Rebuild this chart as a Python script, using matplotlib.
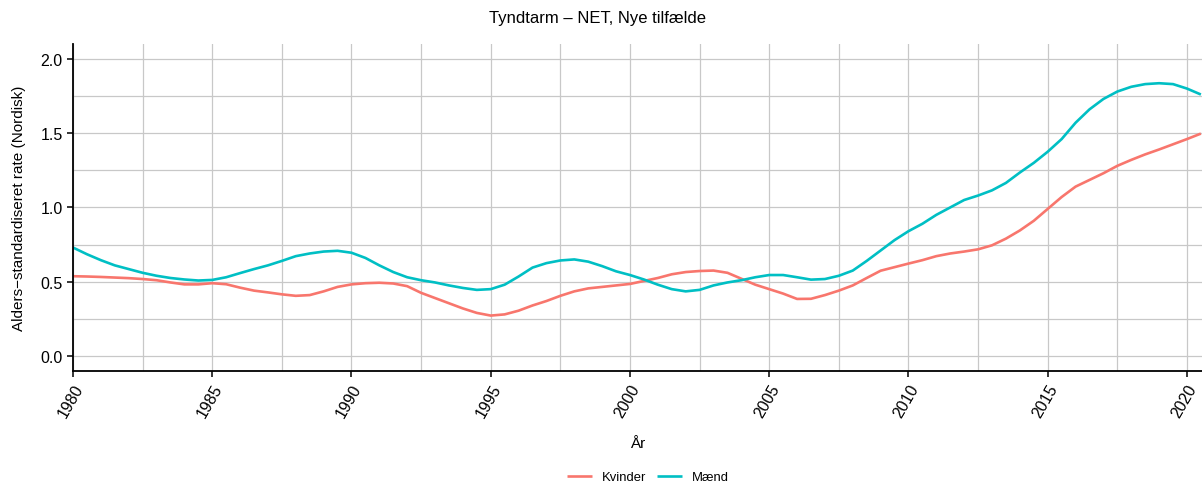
import numpy as np
from matplotlib import pyplot as plt
from matplotlib.ticker import MultipleLocator

# half-year grid, values
years = np.arange(1980.0, 2020.51, 0.5)

kvinder = [0.537, 0.535, 0.532, 0.528, 0.524, 0.518, 0.510, 0.495, 0.482, 0.482,
           0.490, 0.483, 0.460, 0.440, 0.428, 0.415, 0.405, 0.410, 0.435, 0.465,
           0.482, 0.490, 0.493, 0.488, 0.470, 0.425, 0.390, 0.355, 0.320, 0.290,
           0.272, 0.280, 0.305, 0.340, 0.370, 0.405, 0.435, 0.455, 0.465, 0.475,
           0.485, 0.505, 0.525, 0.550, 0.565, 0.572, 0.575, 0.560, 0.520, 0.480,
           0.450, 0.420, 0.384, 0.385, 0.410, 0.440, 0.475, 0.525, 0.574, 0.598,
           0.622, 0.645, 0.672, 0.690, 0.703, 0.718, 0.745, 0.790, 0.845, 0.910,
           0.990, 1.070, 1.140, 1.185, 1.230, 1.280, 1.320, 1.357, 1.390, 1.425,
           1.460, 1.497]

maend = [0.730, 0.685, 0.645, 0.610, 0.585, 0.560, 0.540, 0.525, 0.515, 0.508,
         0.512, 0.530, 0.558, 0.585, 0.610, 0.640, 0.672, 0.690, 0.703, 0.708,
         0.695, 0.660, 0.610, 0.565, 0.530, 0.510, 0.495, 0.475, 0.458, 0.445,
         0.450, 0.480, 0.535, 0.595, 0.625, 0.643, 0.650, 0.635, 0.605, 0.570,
         0.545, 0.515, 0.480, 0.450, 0.435, 0.445, 0.475, 0.495, 0.510, 0.530,
         0.545, 0.545, 0.530, 0.514, 0.518, 0.540, 0.575, 0.640, 0.710, 0.780,
         0.840, 0.890, 0.950, 1.000, 1.050, 1.080, 1.115, 1.165, 1.235, 1.300,
         1.375, 1.460, 1.570, 1.660, 1.730, 1.780, 1.812, 1.830, 1.836, 1.830,
         1.800, 1.760]

series_names = ['Kvinder', 'Mænd']
series_colors = ['#F8766D', '#00BFC4']

plt.rcParams['font.family'] = ['Liberation Sans', 'DejaVu Sans']

fig = plt.figure(figsize=(12.02, 4.85), dpi=100)
ax = fig.add_axes([73 / 1202, 1 - 372 / 485, 1 - 73 / 1202, (372 - 45) / 485])

for vals, name, col in zip([kvinder, maend], series_names, series_colors):
    ax.plot(years, vals, color=col, lw=1.9, label=name, solid_capstyle='butt')

ax.set_xlim(1980, 2020.54)
ax.set_ylim(-0.101, 2.10)
ax.xaxis.set_major_locator(MultipleLocator(5))
ax.xaxis.set_minor_locator(MultipleLocator(2.5))
ax.yaxis.set_minor_locator(MultipleLocator(0.25))
ax.set_yticks([0.0, 0.5, 1.0, 1.5, 2.0])
ax.set_yticklabels(['0.0', '0.5', '1.0', '1.5', '2.0'])

ax.grid(True, which='both', color='#c8c8c8', lw=0.9)
ax.set_axisbelow(True)
for s in ['top', 'right']:
    ax.spines[s].set_visible(False)
for s in ['left', 'bottom']:
    ax.spines[s].set_linewidth(1.3)
ax.tick_params(which='major', length=4, width=1.1, labelsize=11.5, colors='black')
ax.tick_params(which='minor', length=0)
plt.setp(ax.get_xticklabels(), rotation=60, ha='right', va='top',
         rotation_mode='anchor')

ax.set_xlabel('År', fontsize=11, labelpad=12)
ax.set_ylabel('Alders−standardiseret rate (Nordisk)', fontsize=11, labelpad=10)
# title sits over the whole figure rather than the panel
ax.set_title('Tyndtarm – NET, Nye tilfælde', fontsize=12, pad=16, x=0.465)

fig.legend(*ax.get_legend_handles_labels(), loc='center',
           bbox_to_anchor=(648 / 1202, 1 - 478 / 485), ncol=2, frameon=False,
           fontsize=9.4, handlelength=1.9, columnspacing=0.85, handletextpad=0.75,
           borderaxespad=0, borderpad=0)

fig.savefig('out.png', dpi=100)
